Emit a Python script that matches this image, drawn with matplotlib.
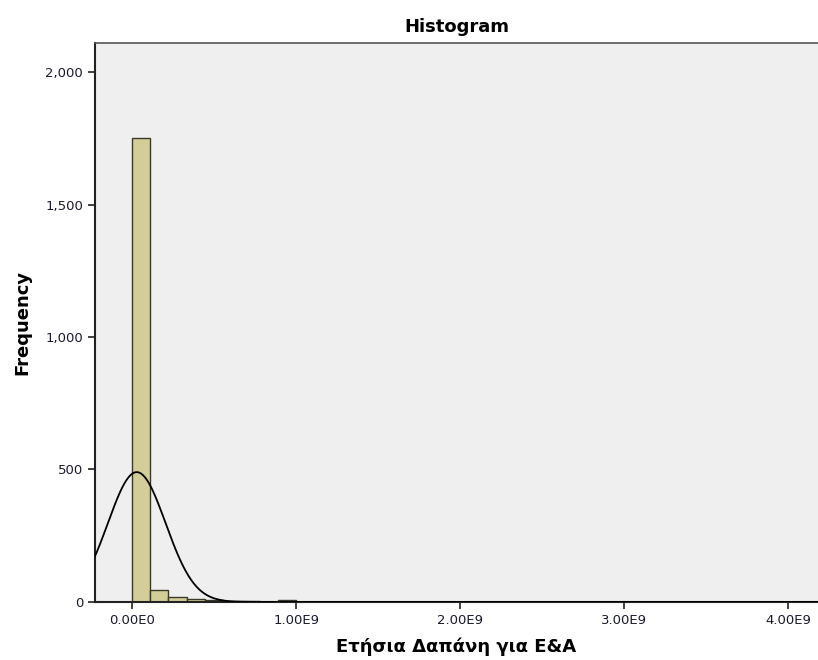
import numpy as np
import matplotlib
matplotlib.use("Agg")
import matplotlib.pyplot as plt
from matplotlib.ticker import FuncFormatter

# histogram bins (width = 1e9 / 9) and counts
bin_width = 1.0e9 / 9
counts = [1752, 45, 20, 12, 8, 3, 2, 1, 8, 0, 1, 1, 0, 1, 0, 1, 1, 0, 1, 0,
          0, 1, 0, 0, 1, 0, 0, 0, 1, 0, 0, 0, 0, 0, 0, 0, 1]
bin_edges = [i * bin_width for i in range(len(counts) + 1)]

# normal curve parameters
curve_mean = 2.9e7
curve_std = 1.76e8
curve_n = 1945

x_ticks = [0, 1e9, 2e9, 3e9, 4e9]
y_ticks = [0, 500, 1000, 1500, 2000]

plt.rcParams['font.family'] = ['DejaVu Sans']

fig = plt.figure(figsize=(8.18, 6.6), dpi=100)
ax = fig.add_axes([0.116, 0.088, 0.884, 0.847])
ax.set_facecolor('#efefef')

ax.bar(bin_edges[:-1], counts, width=bin_width, align='edge',
       color='#d3ce97', edgecolor='#3a3a2a', linewidth=1.0, zorder=2)

xs = np.linspace(-0.3e9, 4.3e9, 800)
ys = curve_n * bin_width / (curve_std * np.sqrt(2 * np.pi)) * np.exp(-0.5 * ((xs - curve_mean) / curve_std) ** 2)
ax.plot(xs, ys, color='black', linewidth=1.3, zorder=3)

ax.set_xlim(-0.226e9, 4.18e9)
ax.set_ylim(0, 2110)
ax.set_xticks(x_ticks)
ax.set_yticks(y_ticks)
ax.xaxis.set_major_formatter(FuncFormatter(lambda v, p: "0.00E0" if v == 0 else "%.2fE9" % (v / 1e9)))
ax.yaxis.set_major_formatter(FuncFormatter(lambda v, p: "{:,.0f}".format(v)))
ax.tick_params(direction='out', length=5, width=1.2, labelsize=9.5, colors='#222222', labelcolor='#1a1a2e')

for side in ['left', 'bottom']:
    ax.spines[side].set_color('#222222')
    ax.spines[side].set_linewidth(1.5)
ax.spines['top'].set_color('#555555')
ax.spines['top'].set_linewidth(1.2)
ax.spines['right'].set_visible(False)

ax.set_title('Histogram', fontsize=13, fontweight='bold', pad=8)
ax.set_xlabel('Ετήσια Δαπάνη για Ε&Α', fontsize=13, fontweight='bold', labelpad=8)
ax.set_ylabel('Frequency', fontsize=13, fontweight='bold', labelpad=10)

fig.savefig('out.png', dpi=100)
